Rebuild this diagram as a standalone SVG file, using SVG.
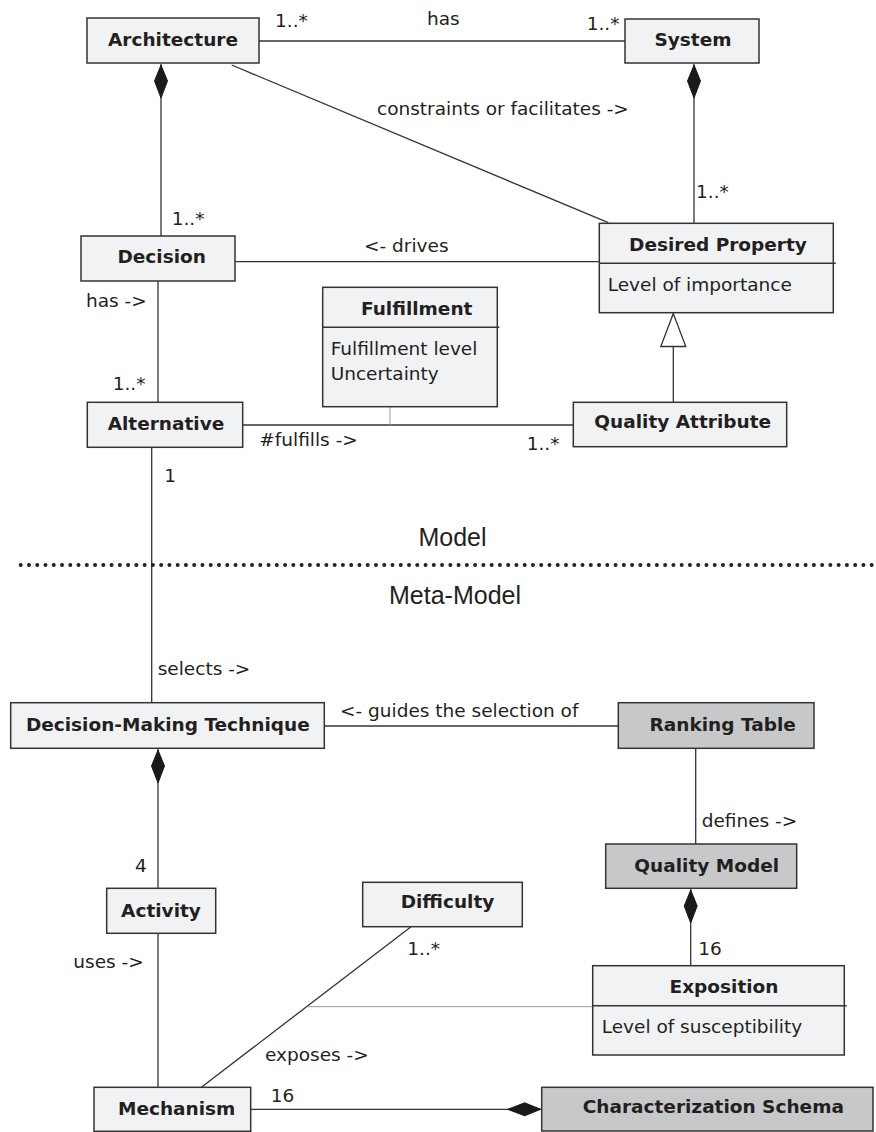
<svg xmlns="http://www.w3.org/2000/svg" width="876" height="1132" viewBox="0 0 876 1132">
<style>
.box{fill:#f1f2f3;stroke:#333;stroke-width:1.5}
.dark{fill:#c7c8ca;stroke:#333;stroke-width:1.5}
.sep{stroke:#333;stroke-width:1.5}
.t{font-family:"DejaVu Sans",Verdana,sans-serif;font-size:18.5px;font-weight:bold;fill:#231f20;text-anchor:middle}
.a{font-family:"DejaVu Sans",Verdana,sans-serif;font-size:18.5px;fill:#231f20}
.lbl{font-family:"DejaVu Sans",Verdana,sans-serif;font-size:18.5px;fill:#231f20}
.sec{font-family:"Liberation Sans",Arial,sans-serif;font-size:25px;fill:#231f20;text-anchor:middle}
.ln{stroke:#333;stroke-width:1.3;fill:none}
.lt{stroke:#999;stroke-width:1;fill:none}
.comp{marker-start:url(#diamond)}
.gen{marker-end:url(#triangle)}
</style>
<defs>
<marker id="diamond" markerUnits="userSpaceOnUse" markerWidth="40" markerHeight="16" refX="0" refY="8" orient="auto" viewBox="0 0 40 16" overflow="visible">
<path d="M1,8 L17,1.5 L34,8 L17,14.5 Z" fill="#1a1a1a" stroke="#1a1a1a" stroke-width="1"/>
</marker>
<marker id="triangle" markerUnits="userSpaceOnUse" markerWidth="36" markerHeight="28" refX="34" refY="14" orient="auto" viewBox="0 0 36 28" overflow="visible">
<path d="M34,14 L1,1.5 L1,26.5 Z" fill="#fff" stroke="#333" stroke-width="1.3"/>
</marker>
</defs>

<g id="connectors">
<line class="ln" x1="259" y1="41" x2="625" y2="41"/>
<line class="ln" x1="231.7" y1="65" x2="608.3" y2="222.7"/>
<line class="ln comp" x1="161" y1="64" x2="161" y2="236"/>
<line class="ln comp" x1="694" y1="64" x2="694" y2="223"/>
<line class="ln" x1="235" y1="261.7" x2="599" y2="261.7"/>
<line class="ln" x1="158" y1="281" x2="158" y2="402"/>
<line class="ln" x1="242.7" y1="425" x2="573.3" y2="425"/>
<line class="lt" x1="390" y1="407" x2="390" y2="425"/>
<line class="ln gen" x1="673.3" y1="402" x2="673.3" y2="313.5"/>
<line class="ln" x1="151.7" y1="447" x2="151.7" y2="703"/>
<line class="ln" x1="324" y1="726" x2="618" y2="726"/>
<line class="ln" x1="695.7" y1="748" x2="695.7" y2="844"/>
<line class="ln comp" x1="158" y1="749" x2="158" y2="888"/>
<line class="ln" x1="158" y1="933" x2="158" y2="1087"/>
<line class="ln comp" x1="690.7" y1="889" x2="690.7" y2="966"/>
<line class="ln" x1="410.7" y1="927" x2="201.7" y2="1087"/>
<line class="lt" x1="307.5" y1="1006.7" x2="592.7" y2="1006.7"/>
<line class="ln comp" x1="541.7" y1="1109.3" x2="250.7" y2="1109.3"/>
</g>

<g id="labels">
<text class="lbl" x="275" y="27">1..*</text>
<text class="lbl" x="427" y="25">has</text>
<text class="lbl" x="586.7" y="30">1..*</text>
<text class="lbl" x="377" y="115">constraints or facilitates -&gt;</text>
<text class="lbl" x="696" y="198">1..*</text>
<text class="lbl" x="171.7" y="225">1..*</text>
<text class="lbl" x="364" y="251.7">&lt;- drives</text>
<text class="lbl" x="86" y="307">has -&gt;</text>
<text class="lbl" x="112.7" y="390">1..*</text>
<text class="lbl" x="259.3" y="446">#fulfills -&gt;</text>
<text class="lbl" x="526.7" y="450">1..*</text>
<text class="lbl" x="164.3" y="481.7">1</text>
<text class="lbl" x="157.7" y="675">selects -&gt;</text>
<text class="lbl" x="340" y="716.7">&lt;- guides the selection of</text>
<text class="lbl" x="701.7" y="826.7">defines -&gt;</text>
<text class="lbl" x="135" y="871.7">4</text>
<text class="lbl" x="73.3" y="968.3">uses -&gt;</text>
<text class="lbl" x="407.3" y="955">1..*</text>
<text class="lbl" x="698.3" y="955">16</text>
<text class="lbl" x="265" y="1060.7">exposes -&gt;</text>
<text class="lbl" x="270.7" y="1101.7">16</text>
</g>

<g id="divider">
<text class="sec" x="452.5" y="546">Model</text>
<line x1="20.7" y1="565" x2="872" y2="565" stroke="#222" stroke-width="4" stroke-linecap="round" stroke-dasharray="0 8.262"/>
<text class="sec" x="455" y="604">Meta-Model</text>
</g>

<g id="architecture">
<rect class="box" x="87" y="18" width="172" height="45"/>
<text class="t" x="173" y="46">Architecture</text>
</g>
<g id="system">
<rect class="box" x="625" y="19" width="134" height="44"/>
<text class="t" x="693" y="46">System</text>
</g>
<g id="decision">
<rect class="box" x="81" y="236" width="154" height="45"/>
<text class="t" x="161.7" y="263">Decision</text>
</g>
<g id="desired-property">
<rect class="box" x="599.3" y="223.3" width="234" height="89.4"/>
<line class="sep" x1="599.3" y1="263.3" x2="835.7" y2="263.3"/>
<text class="t" x="718" y="250.7">Desired Property</text>
<text class="a" x="607.7" y="291">Level of importance</text>
</g>
<g id="fulfillment">
<rect class="box" x="322.7" y="287.3" width="174.6" height="119.4"/>
<line class="sep" x1="322.7" y1="327.3" x2="499.3" y2="327.3"/>
<text class="t" x="416.7" y="315">Fulfillment</text>
<text class="a" x="330.7" y="355">Fulfillment level</text>
<text class="a" x="330.7" y="380">Uncertainty</text>
</g>
<g id="alternative">
<rect class="box" x="87.3" y="402.3" width="155.4" height="45"/>
<text class="t" x="166" y="430">Alternative</text>
</g>
<g id="quality-attribute">
<rect class="box" x="573.3" y="402.3" width="213.4" height="44.4"/>
<text class="t" x="682.7" y="428.3">Quality Attribute</text>
</g>
<g id="decision-making-technique">
<rect class="box" x="10.7" y="702.7" width="313.6" height="45.6"/>
<text class="t" x="167.8" y="730.7">Decision-Making Technique</text>
</g>
<g id="ranking-table">
<rect class="dark" x="618.3" y="702.7" width="195.7" height="45.6"/>
<text class="t" x="722.7" y="730.7">Ranking Table</text>
</g>
<g id="quality-model">
<rect class="dark" x="605.7" y="844" width="191" height="44.3"/>
<text class="t" x="706.7" y="871.7">Quality Model</text>
</g>
<g id="activity">
<rect class="box" x="106.7" y="888.3" width="109" height="45"/>
<text class="t" x="161" y="916.7">Activity</text>
</g>
<g id="difficulty">
<rect class="box" x="362.7" y="882.3" width="159.6" height="44.4"/>
<text class="t" x="447.5" y="908.3">Difficulty</text>
</g>
<g id="exposition">
<rect class="box" x="592.7" y="965.7" width="251.6" height="89.3"/>
<line class="sep" x1="592.7" y1="1005.7" x2="846.7" y2="1005.7"/>
<text class="t" x="724" y="993.3">Exposition</text>
<text class="a" x="601.7" y="1033.3">Level of susceptibility</text>
</g>
<g id="mechanism">
<rect class="box" x="94" y="1087.3" width="156.7" height="44"/>
<text class="t" x="176.7" y="1115">Mechanism</text>
</g>
<g id="characterization-schema">
<rect class="dark" x="541.7" y="1087.3" width="331.3" height="43.7"/>
<text class="t" x="713.3" y="1113.3">Characterization Schema</text>
</g>
</svg>
